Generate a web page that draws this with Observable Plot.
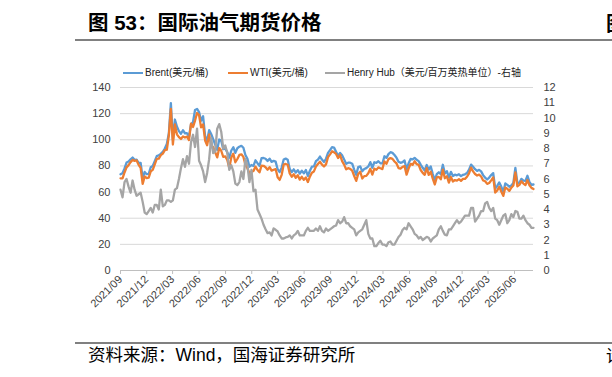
<!DOCTYPE html>
<html>
<head>
<meta charset="utf-8">
<script src="https://cdn.jsdelivr.net/npm/d3@7"></script>
<script src="https://cdn.jsdelivr.net/npm/@observablehq/plot@0.6"></script>
<style>
  html, body { margin: 0; padding: 0; }
  body { width: 612px; height: 377px; overflow: hidden; position: relative; background: #fff;
         font-family: "Liberation Sans", "Noto Sans CJK SC", sans-serif; }
  .abs { position: absolute; white-space: nowrap; }
  #title { left: 88px; top: 12px; font-size: 20.5px; line-height: 22px; font-weight: bold; color: #000;
           font-family: "Liberation Sans", "Noto Sans CJK SC", sans-serif; }
  #title2 { left: 606px; top: 12px; font-size: 20px; line-height: 22px; font-weight: bold; color: #000;
           font-family: "Noto Sans CJK SC", sans-serif; }
  .hr { position: absolute; left: 75px; width: 540px; height: 2px; background: #808080; }
  .legend { top: 67px; font-size: 10px; line-height: 12px; color: #222; display: flex; align-items: center; }
  .sw { display: inline-block; width: 20px; height: 2.5px; margin-right: 2px; }
  #chart { position: absolute; left: 0; top: 80px; }
  #source { left: 88px; top: 345px; font-size: 17.5px; line-height: 20px; color: #000;
            font-family: "Liberation Sans", "Noto Sans CJK SC", sans-serif; }
  #source2 { left: 606px; top: 345px; font-size: 17px; line-height: 20px; color: #000; font-family: "Noto Sans CJK SC", sans-serif; }
</style>
</head>
<body>
<div id="title" class="abs">图 53：国际油气期货价格</div>
<div id="title2" class="abs">图</div>
<div class="hr" style="top:39px"></div>
<div class="abs legend" style="left:123px"><span class="sw" style="background:#5b9bd5"></span>Brent(美元/桶)</div>
<div class="abs legend" style="left:228px"><span class="sw" style="background:#ed7d31"></span>WTI(美元/桶)</div>
<div class="abs legend" style="left:325px"><span class="sw" style="background:#a5a5a5"></span>Henry Hub（美元/百万英热单位）-右轴</div>
<div id="chart"></div>
<div class="hr" style="top:342px"></div>
<div id="source" class="abs">资料来源：Wind，国海证券研究所</div>
<div id="source2" class="abs">请</div>
<script>
// Weekly observations starting from this date
const startDate = "2021-09-14";

const tickLabels = ["2021/09","2021/12","2022/03","2022/06","2022/09","2022/12","2023/03","2023/06",
  "2023/09","2023/12","2024/03","2024/06","2024/09","2024/12","2025/03","2025/06"];

const leftTicks = [0, 20, 40, 60, 80, 100, 120, 140];
const rightTicks = [0, 1, 2, 3, 4, 5, 6, 7, 8, 9, 10, 11, 12];

// Brent (USD/bbl), weekly
const brent = [
  73.6,74.4,78.1,82.6,83.4,85.1,86.4,84.7,84.8,82.4,82.3,70.6,75.4,73.7,73.9,79.0,
  80.0,83.7,87.5,88.2,89.2,90.8,93.3,96.8,105.0,128.0,99.9,115.5,110.2,106.6,104.6,107.3,
  105.0,105.0,102.5,111.9,113.6,122.8,123.6,121.2,114.6,118.0,102.8,99.5,107.4,104.4,100.5,96.3,
  92.3,100.2,99.3,92.8,93.2,90.6,86.3,91.8,94.3,90.0,93.5,94.7,95.4,93.9,88.4,85.4,
  79.4,80.7,80.0,84.3,82.1,80.1,85.9,86.1,85.5,83.7,85.6,83.1,83.9,83.3,77.5,75.3,
  78.7,84.9,85.6,84.8,77.7,75.3,77.4,74.9,76.8,74.1,76.3,74.3,76.9,72.3,76.3,79.4,
  79.6,83.6,84.9,87.2,84.9,83.0,85.5,90.0,92.1,94.3,94.0,90.9,87.7,89.9,88.1,85.0,
  81.6,82.5,82.5,81.7,77.2,73.2,79.2,79.7,75.9,77.6,78.3,79.6,82.9,78.6,82.8,82.3,
  83.6,82.0,81.9,87.4,86.2,89.0,90.5,90.0,88.4,86.3,83.2,82.4,82.9,84.2,77.5,82.0,
  85.3,85.0,86.2,84.7,83.7,81.0,78.6,76.5,80.7,77.2,79.6,73.8,69.2,73.7,75.2,73.6,
  80.9,74.3,76.0,71.1,75.5,72.3,73.3,72.8,73.6,72.2,73.2,73.6,74.6,77.1,81.0,79.3,
  77.5,76.2,77.0,75.8,73.0,71.0,69.6,71.1,73.0,74.5,62.8,64.7,67.4,64.2,60.2,66.6,
  65.5,64.1,65.0,67.0,78.5,67.1,67.1,70.1,68.7,68.6,72.5,67.6,65.6,65.8
];

// WTI (USD/bbl), weekly
const wti = [
  70.5,70.5,75.0,78.9,80.6,82.9,84.6,83.9,84.2,80.8,78.5,66.2,72.0,70.7,71.1,75.9,
  77.0,81.2,85.4,85.6,88.2,89.4,92.1,92.4,103.4,123.7,96.4,111.8,104.2,102.0,100.6,102.6,
  101.7,102.4,99.8,112.4,109.8,114.7,120.5,118.9,109.5,111.8,99.5,95.8,104.2,95.0,94.4,90.5,
  86.5,93.7,91.6,86.9,87.3,84.5,78.5,86.5,89.4,82.8,85.3,88.4,88.9,86.9,81.0,78.2,
  74.3,75.4,76.1,79.5,76.9,75.1,80.2,80.1,79.0,77.1,79.1,76.4,77.1,77.6,71.3,69.3,
  73.2,81.0,81.5,80.9,74.3,71.7,73.7,70.9,72.9,69.5,71.7,69.4,71.2,67.7,71.8,74.8,
  75.8,79.6,81.4,83.2,81.0,79.6,81.2,86.7,88.8,91.2,90.4,89.2,86.0,88.3,83.7,81.0,
  77.4,78.3,77.8,76.4,72.3,68.6,73.9,75.6,70.4,72.2,72.4,74.4,77.8,73.3,77.9,77.0,
  78.9,78.2,77.6,83.5,81.6,85.2,86.0,85.4,83.4,81.9,78.4,78.0,79.3,79.8,73.3,78.0,
  81.6,80.8,83.6,81.4,80.8,76.9,74.7,73.2,78.4,73.2,75.5,70.3,65.8,71.2,71.6,69.8,
  77.1,70.6,72.1,67.2,71.5,68.1,69.2,68.8,69.9,68.6,70.1,70.1,71.7,74.3,78.7,75.8,
  73.8,72.7,73.3,71.9,68.9,68.3,66.3,66.9,69.0,71.2,59.6,61.3,64.1,60.4,57.1,63.5,
  62.6,60.9,63.4,65.0,75.1,64.4,65.5,68.3,66.5,65.3,69.2,65.2,63.2,62.4
];

// Henry Hub (USD/MMBtu), weekly, right axis
const henryHub = [
  5.3,4.8,5.8,6.0,5.5,5.1,5.9,5.3,4.9,5.0,5.1,4.5,3.8,3.7,3.9,4.1,
  3.8,4.3,4.3,4.0,5.3,4.2,4.3,4.6,4.6,4.5,4.6,5.3,5.4,6.0,6.7,7.3,
  6.8,7.5,7.0,8.4,8.9,8.1,9.3,7.2,6.9,6.5,5.8,6.4,7.3,8.7,7.7,7.8,
  9.3,9.6,9.1,8.0,8.2,7.7,6.6,6.9,6.5,5.7,5.6,5.8,6.5,6.0,7.3,6.9,
  5.8,6.6,5.2,5.3,4.0,3.7,3.4,3.0,2.7,2.45,2.5,2.3,2.76,2.67,2.56,2.3,
  2.1,2.1,2.17,2.2,2.3,2.1,2.3,2.4,2.6,2.3,2.3,2.3,2.6,2.8,2.6,2.6,
  2.6,2.75,2.6,2.9,2.6,2.5,2.75,2.6,2.7,2.8,2.9,2.95,3.3,3.1,3.2,3.5,
  3.1,3.1,2.9,2.8,2.7,2.3,2.5,2.6,2.7,3.0,3.3,2.4,2.1,2.1,1.6,1.6,
  1.8,1.95,1.7,1.7,1.6,1.85,1.9,1.7,1.7,1.95,2.2,2.35,2.65,2.8,2.7,3.1,
  2.9,2.7,2.4,2.3,2.1,2.2,2.0,2.1,2.2,2.15,1.9,2.1,2.2,2.3,2.7,2.9,
  2.6,2.35,2.3,2.7,2.7,2.9,3.1,3.3,3.1,3.2,3.4,3.6,3.6,3.6,4.1,4.1,
  3.2,3.4,3.6,3.9,3.9,4.4,4.5,4.1,3.9,4.1,3.4,3.3,3.0,3.3,3.6,3.7,
  3.1,3.3,3.7,3.5,3.9,3.85,3.4,3.4,3.6,3.3,3.1,3.0,2.8,2.8
];

const ratio = 140 / 12;
const t0 = new Date(startDate + "T00:00:00Z");
const dates = brent.map((_, i) => d3.utcDay.offset(t0, 7 * i));
const rows = dates.map((date, i) => ({date, brent: brent[i], wti: wti[i], hh: henryHub[i]}));
const tickDates = tickLabels.map(s => {
  const [y, m] = s.split("/").map(Number);
  return new Date(Date.UTC(y, m - 1, 14));
});
const fmt = d3.utcFormat("%Y/%m");

const chart = Plot.plot({
  width: 612,
  height: 250,
  marginLeft: 120,
  marginRight: 79,
  marginTop: 7,
  marginBottom: 60,
  style: {fontFamily: "'Liberation Sans','Noto Sans CJK SC',sans-serif", fontSize: "11px", color: "#404040", background: "transparent"},
  x: {type: "utc", domain: [t0, dates[dates.length - 1]]},
  y: {domain: [0, 140]},
  marks: [
    Plot.gridY(leftTicks.slice(1), {stroke: "#d9d9d9", strokeOpacity: 1}),
    Plot.ruleY([0], {stroke: "#bfbfbf"}),
    Plot.axisY(leftTicks, {anchor: "left", tickSize: 0, tickPadding: 10, label: null}),
    Plot.axisY(rightTicks.map(v => v * ratio), {anchor: "right", tickSize: 0, tickPadding: 10, label: null,
      tickFormat: d => String(Math.round(d / ratio))}),
    Plot.axisX(tickDates, {tickRotate: -45, tickSize: 4, tickPadding: 3, stroke: "#bfbfbf", label: null,
      tickFormat: d => fmt(d)}),
    Plot.lineY(rows, {x: "date", y: "brent", stroke: "#5b9bd5", strokeWidth: 2.3}),
    Plot.lineY(rows, {x: "date", y: "wti", stroke: "#ed7d31", strokeWidth: 2.3}),
    Plot.lineY(rows, {x: "date", y: d => d.hh * ratio, stroke: "#a5a5a5", strokeWidth: 2.3})
  ]
});
document.getElementById("chart").appendChild(chart);
</script>
</body>
</html>
